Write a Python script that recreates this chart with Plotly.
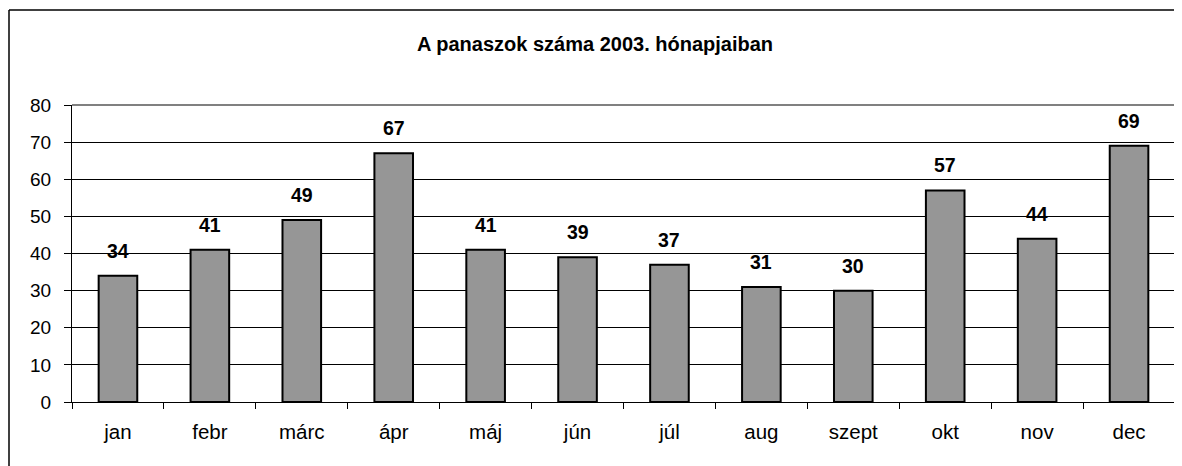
import plotly.graph_objects as go

months = ["jan", "febr", "márc", "ápr", "máj", "jún", "júl", "aug", "szept", "okt", "nov", "dec"]
complaints = [34, 41, 49, 67, 41, 39, 37, 31, 30, 57, 44, 69]
y_ticks = [0, 10, 20, 30, 40, 50, 60, 70, 80]
title_text = "A panaszok száma 2003. hónapjaiban"

# page has an 8px body margin, so the figure is offset by (8, 8)
W, H = 1174, 458
ML, MT, MR, MB = 64, 97, 7, 64
PW, PH = W - ML - MR, H - MT - MB

fig = go.Figure()
fig.add_trace(go.Bar(
    x=months, y=complaints,
    marker=dict(color="#969696", line=dict(color="black", width=2)),
    width=0.42,
    hoverinfo="x+y",
))

for m, v in zip(months, complaints):
    fig.add_annotation(
        x=m, y=v, text=f"<b>{v}</b>", showarrow=False,
        yanchor="bottom", yshift=12,
        font=dict(family="Liberation Sans, Arial", size=19.5, color="black"),
    )

fig.update_layout(
    width=W, height=H,
    margin=dict(l=ML, r=MR, t=MT, b=MB),
    paper_bgcolor="white", plot_bgcolor="white",
    showlegend=False,
    font=dict(family="Liberation Sans, Arial", size=19, color="black"),
    title=dict(text=f"<b>{title_text}</b>", x=0.5, xanchor="center",
               y=1 - 36 / H, yanchor="middle",
               font=dict(family="Liberation Sans, Arial", size=20, color="black")),
    xaxis=dict(
        type="category", showgrid=False, showline=True, linecolor="black", linewidth=1,
        ticks="outside", tickson="boundaries", ticklen=6, tickcolor="black",
        tickfont=dict(size=20.5), ticklabelstandoff=11, zeroline=False,
    ),
    yaxis=dict(
        range=[0, 80], tickvals=y_ticks, showgrid=True, gridcolor="black", gridwidth=1,
        showline=True, linecolor="black", linewidth=1,
        ticks="outside", ticklen=7, tickcolor="black", tickfont=dict(size=19),
        ticklabelstandoff=9, zeroline=False, fixedrange=True,
    ),
    shapes=[
        # plot-area frame top and right (gray)
        dict(type="line", xref="paper", yref="paper", x0=0, x1=1, y0=1, y1=1,
             line=dict(color="#808080", width=2)),
        dict(type="line", xref="paper", yref="paper", x0=1, x1=1, y0=0, y1=1,
             line=dict(color="#808080", width=2)),
        # outer chart border
        dict(type="line", xref="paper", yref="paper",
             x0=(1 - ML) / PW, x1=1 + (MR + 10) / PW, y0=1 + (MT - 2) / PH, y1=1 + (MT - 2) / PH,
             line=dict(color="black", width=1.5)),
        dict(type="line", xref="paper", yref="paper",
             x0=(1 - ML) / PW, x1=(1 - ML) / PW, y0=-(MB + 10) / PH, y1=1 + (MT - 2) / PH,
             line=dict(color="black", width=1.5)),
    ],
)

fig.write_html("out.html")
